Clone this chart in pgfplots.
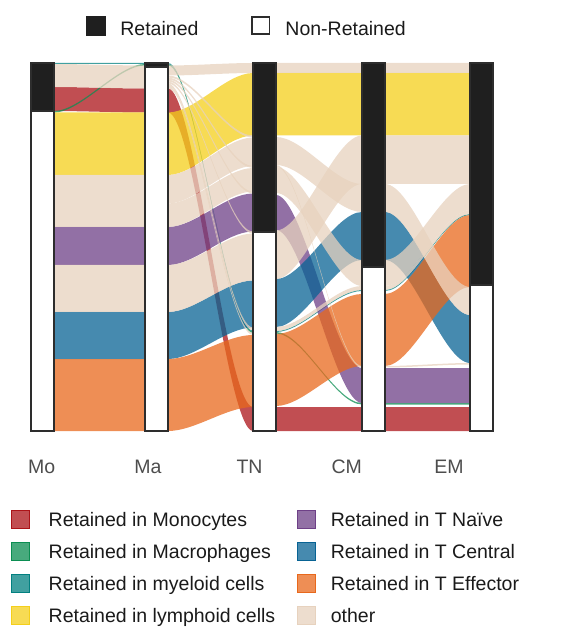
\documentclass[border=0pt]{standalone}
\usepackage{fontspec}
\setmainfont{Liberation Sans}
\usepackage{pgfplots}
\pgfplotsset{compat=1.18}

% flow colours (drawn at 75% opacity)
\definecolor{cRed}{RGB}{172,19,24}
\definecolor{cGreen}{RGB}{11,142,82}
\definecolor{cTeal}{RGB}{2,128,128}
\definecolor{cYellow}{RGB}{244,207,27}
\definecolor{cPurple}{RGB}{110,64,135}
\definecolor{cBlue}{RGB}{8,99,148}
\definecolor{cOrange}{RGB}{232,104,28}
\definecolor{cBeige}{RGB}{231,210,190}
\definecolor{stratfill}{RGB}{31,31,31}
\definecolor{edge}{RGB}{45,45,45}
\definecolor{lblgray}{RGB}{77,77,77}
\definecolor{txt}{RGB}{26,26,26}

\newcommand{\lfont}{\fontsize{19.5}{23}\selectfont}

% a ribbon between two axes:
% #1 left x, #2 right x, #3/#4 top/bottom at left, #5/#6 top/bottom at right, #7 colour
\newcommand{\flow}[7]{%
  \fill[#7, fill opacity=0.75]
    (axis cs:#1,#3) .. controls +(27pt,0pt) and +(-27pt,0pt) .. (axis cs:#2,#5)
    -- (axis cs:#2,#6) .. controls +(-27pt,0pt) and +(27pt,0pt) .. (axis cs:#1,#4)
    -- cycle;}

% one stratum: #1 left x, #2 right x, #3 boundary between retained (top) and non-retained
\newcommand{\stratum}[3]{%
  \addplot[forget plot, fill=stratfill, draw=edge, line width=1.8pt]
    coordinates {(#1,368) (#2,368) (#2,#3) (#1,#3)} -- cycle;
  \addplot[forget plot, fill=white, draw=edge, line width=1.8pt]
    coordinates {(#1,#3) (#2,#3) (#2,0) (#1,0)} -- cycle;}

\begin{document}
\begin{tikzpicture}
\begin{axis}[
  name=main,
  x=1pt, y=1pt,
  xmin=0, xmax=562, ymin=0, ymax=368,
  enlargelimits=false,
  clip=false,
  no markers,
  axis line style={draw=none},
  major tick length=0pt,
  ytick=\empty,
  xtick={41.7,148,249.5,346.7,449},
  xticklabels={Mo,Ma,TN,CM,EM},
  xticklabel style={anchor=base, yshift=-42pt, text=lblgray, font=\lfont},
  legend columns=2,
  legend cell align=left,
  legend style={at={(axis cs:11,-78.5)}, anchor=north west,
    draw=none, fill=none, inner sep=0pt, outer sep=0pt,
    row sep=13.5pt, column sep=0pt,
    font=\lfont, text=txt,
    nodes={inner sep=0pt, text height=15pt, text depth=0pt},
    /tikz/column 1/.append style={column sep=19pt},
    /tikz/column 2/.append style={column sep=21.9pt},
    /tikz/column 3/.append style={column sep=15pt}},
]
% Monocytes
\flow{54}{145}{344}{320}{342.5}{318.5}{cRed}
\flow{168}{253}{342.5}{318.5}{24}{0}{cRed}
\flow{276}{362}{24}{0}{24}{0}{cRed}
\flow{385}{470}{24}{0}{24}{0}{cRed}
% Macrophages
\flow{54}{145}{320}{318.5}{367}{365.5}{cGreen}
\flow{168}{253}{367}{365.5}{99.5}{98}{cGreen}
\flow{276}{362}{99}{97.5}{28}{26.5}{cGreen}
\flow{385}{470}{28}{26.5}{28}{26.5}{cGreen}
% myeloid cells
\flow{54}{145}{368}{367}{368}{367}{cTeal}
\flow{168}{253}{368}{367}{100.5}{99.5}{cTeal}
\flow{276}{362}{100}{99}{141}{140}{cTeal}
\flow{385}{470}{141}{140}{217}{216}{cTeal}
% lymphoid cells
\flow{54}{145}{318.5}{256}{318.5}{256}{cYellow}
\flow{168}{253}{318.5}{256}{358}{295.5}{cYellow}
\flow{276}{362}{358}{295.5}{358}{295.5}{cYellow}
\flow{385}{470}{358}{295.5}{358}{295.5}{cYellow}
% T naive
\flow{54}{145}{204}{166}{204}{166}{cPurple}
\flow{168}{253}{204}{166}{237.5}{199.5}{cPurple}
\flow{276}{362}{236}{201}{63}{28}{cPurple}
\flow{385}{470}{63}{28}{63}{28}{cPurple}
% T central
\flow{54}{145}{119}{72}{119}{72}{cBlue}
\flow{168}{253}{119}{72}{150.5}{103.5}{cBlue}
\flow{276}{362}{152}{104}{219}{171}{cBlue}
\flow{385}{470}{219}{171}{116}{68}{cBlue}
% T effector
\flow{54}{145}{72}{0}{72}{0}{cOrange}
\flow{168}{253}{72}{0}{96}{24}{cOrange}
\flow{276}{362}{97}{25}{137}{65}{cOrange}
\flow{385}{470}{137}{65}{216}{144}{cOrange}
% other
\flow{54}{145}{367}{344}{365.5}{342.5}{cBeige}
\flow{54}{145}{256}{204}{256}{204}{cBeige}
\flow{54}{145}{166}{119}{166}{119}{cBeige}
\flow{168}{253}{365.5}{355.5}{368}{358}{cBeige}
\flow{168}{253}{355.5}{353.5}{295.5}{293.5}{cBeige}
\flow{168}{253}{353.5}{351.5}{265}{263}{cBeige}
\flow{168}{253}{351.5}{349.5}{239.5}{237.5}{cBeige}
\flow{168}{253}{349.5}{347.5}{199.5}{197.5}{cBeige}
\flow{168}{253}{347.5}{344.5}{103.5}{100.5}{cBeige}
\flow{168}{253}{344.5}{342.5}{98}{96}{cBeige}
\flow{168}{253}{256}{227.5}{293.5}{265}{cBeige}
\flow{168}{253}{227.5}{204}{263}{239.5}{cBeige}
\flow{168}{253}{166}{119}{197.5}{150.5}{cBeige}
\flow{276}{362}{368}{358}{368}{358}{cBeige}
\flow{276}{362}{294}{266}{247}{219}{cBeige}
\flow{276}{362}{264}{238}{171}{145}{cBeige}
\flow{276}{362}{200.5}{152}{295.5}{247}{cBeige}
\flow{276}{362}{104}{100}{145}{141}{cBeige}
\flow{276}{362}{266}{264.5}{65}{63.5}{cBeige}
\flow{385}{470}{368}{358}{368}{358}{cBeige}
\flow{385}{470}{295.5}{247}{295.5}{247}{cBeige}
\flow{385}{470}{247}{219}{144}{116}{cBeige}
\flow{385}{470}{171}{145}{247}{221}{cBeige}
\flow{385}{470}{145}{141}{221}{217}{cBeige}
\flow{385}{470}{65}{63.5}{68}{66.5}{cBeige}

% strata: Mo, Ma, TN, CM, EM
\stratum{31}{54}{320}
\stratum{145}{168}{364}
\stratum{253}{276}{199.3}
\stratum{362}{385}{164.3}
\stratum{470}{493}{146}

% legend of the flow colours (filled row by row)
\addlegendimage{legend image code/.code={\fill[cRed, fill opacity=0.75] (0pt,-9.15pt) rectangle (18.3pt,9.15pt);}}
\addlegendentry{Retained in Monocytes}
\addlegendimage{legend image code/.code={\fill[cPurple, fill opacity=0.75] (0pt,-9.15pt) rectangle (18.3pt,9.15pt);}}
\addlegendentry{Retained in T Naïve}
\addlegendimage{legend image code/.code={\fill[cGreen, fill opacity=0.75] (0pt,-9.15pt) rectangle (18.3pt,9.15pt);}}
\addlegendentry{Retained in Macrophages}
\addlegendimage{legend image code/.code={\fill[cBlue, fill opacity=0.75] (0pt,-9.15pt) rectangle (18.3pt,9.15pt);}}
\addlegendentry{Retained in T Central}
\addlegendimage{legend image code/.code={\fill[cTeal, fill opacity=0.75] (0pt,-9.15pt) rectangle (18.3pt,9.15pt);}}
\addlegendentry{Retained in myeloid cells}
\addlegendimage{legend image code/.code={\fill[cOrange, fill opacity=0.75] (0pt,-9.15pt) rectangle (18.3pt,9.15pt);}}
\addlegendentry{Retained in T Effector}
\addlegendimage{legend image code/.code={\fill[cYellow, fill opacity=0.75] (0pt,-9.15pt) rectangle (18.3pt,9.15pt);}}
\addlegendentry{Retained in lymphoid cells}
\addlegendimage{legend image code/.code={\fill[cBeige, fill opacity=0.75] (0pt,-9.15pt) rectangle (18.3pt,9.15pt);}}
\addlegendentry{other}

% page extent
\path (axis cs:0,-197) rectangle (axis cs:562,431);
\end{axis}

% legend of the strata fill
\begin{axis}[
  at={(main.south west)}, anchor=south west,
  x=1pt, y=1pt,
  xmin=0, xmax=562, ymin=0, ymax=368,
  hide axis,
  legend columns=2,
  legend cell align=left,
  legend style={at={(axis cs:86,415)}, anchor=north west,
    draw=none, fill=none, inner sep=0pt, outer sep=0pt,
    column sep=0pt,
    font=\lfont, text=txt,
    nodes={inner sep=0pt, text height=19pt, text depth=0pt},
    /tikz/column 1/.append style={column sep=15pt},
    /tikz/column 2/.append style={column sep=53pt},
    /tikz/column 3/.append style={column sep=15pt}},
]
\addlegendimage{legend image code/.code={\fill[stratfill] (0pt,-9.5pt) rectangle (19pt,9.5pt);}}
\addlegendentry{Retained}
\addlegendimage{legend image code/.code={\draw[edge, line width=1.8pt, fill=white] (0.9pt,-8.6pt) rectangle (18.1pt,8.6pt);}}
\addlegendentry{Non-Retained}
\end{axis}
\end{tikzpicture}
\end{document}
